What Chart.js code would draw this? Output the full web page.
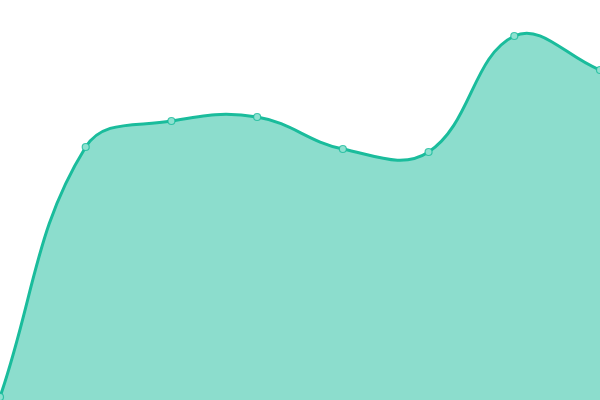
<!DOCTYPE html>
<html>
<head>
<meta charset="utf-8">
<script src="https://cdn.jsdelivr.net/npm/chart.js@4"></script>
<style>
html,body{margin:0;padding:0;background:#fff;}
#wrap{width:600px;height:400px;position:relative;}
</style>
</head>
<body>
<div id="wrap"><canvas id="c"></canvas></div>
<script>
const labels = ["A","B","C","D","E","F","G","H"];
const values = [3, 253, 279, 283, 251, 248, 364, 330];
const yMin = 0;
const yMax = 400;

new Chart(document.getElementById('c'), {
  type: 'line',
  data: {
    labels: labels,
    datasets: [{
      data: values,
      fill: 'origin',
      backgroundColor: 'rgba(26,188,156,0.5)',
      borderColor: '#1abc9c',
      borderWidth: 3,
      tension: 0.4,
      pointRadius: 3.5,
      pointBackgroundColor: 'rgba(142,225,208,1)',
      pointBorderColor: 'rgba(26,188,156,0.8)',
      pointBorderWidth: 1.2
    }]
  },
  options: {
    responsive: true,
    maintainAspectRatio: false,
    animation: false,
    layout: { padding: 0, autoPadding: false },
    plugins: { legend: { display: false }, tooltip: { enabled: false }, title: { display: false } },
    scales: {
      x: { display: false, offset: false },
      y: { display: false, min: yMin, max: yMax }
    }
  }
});
</script>
</body>
</html>
